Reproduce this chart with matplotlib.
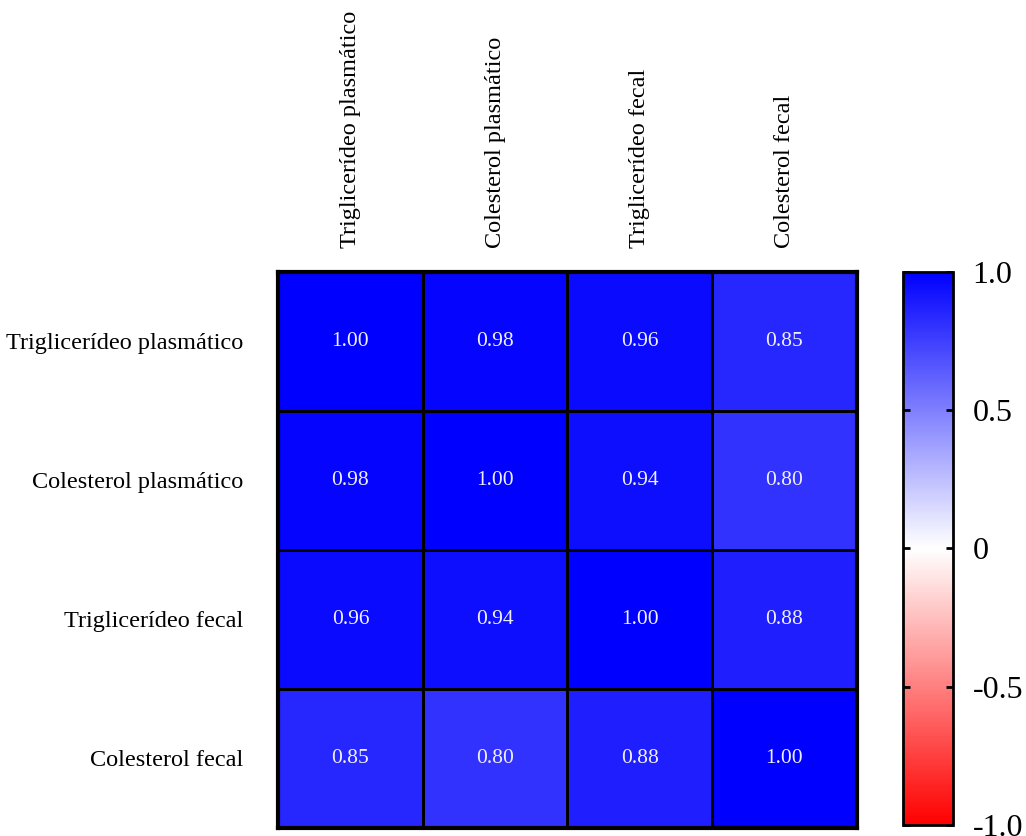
import numpy as np
import matplotlib
matplotlib.use('Agg')
import matplotlib.pyplot as plt
from matplotlib.colors import LinearSegmentedColormap

plt.rcParams['font.family'] = ['Liberation Serif', 'DejaVu Serif']

labels = ['Triglicerídeo plasmático', 'Colesterol plasmático',
          'Triglicerídeo fecal', 'Colesterol fecal']
corr = np.array([[1.00, 0.98, 0.96, 0.85],
                 [0.98, 1.00, 0.94, 0.80],
                 [0.96, 0.94, 1.00, 0.88],
                 [0.85, 0.80, 0.88, 1.00]])
cbar_ticks = [1.0, 0.5, 0, -0.5, -1.0]
cbar_ticklabels = ['1.0', '0.5', '0', '-0.5', '-1.0']

cmap = LinearSegmentedColormap.from_list('rwb', ['#ff0000', '#ffffff', '#0000ff'])

fig = plt.figure(figsize=(10.26, 8.36), dpi=100)
ax = fig.add_axes([0.271, 0.0096, 0.564, 0.6654])
cax = fig.add_axes([0.880, 0.013, 0.049, 0.662])

n = len(labels)
mesh = ax.pcolormesh(corr, cmap=cmap, vmin=-1, vmax=1,
                     edgecolors='black', linewidth=1.8)
ax.set_xlim(0, n)
ax.set_ylim(n, 0)
for i in range(n):
    for j in range(n):
        ax.text(j + 0.5, i + 0.5, '%.2f' % corr[i, j], ha='center', va='center',
                color='#eeeeff', fontsize=15.5)

ax.set_xticks(np.arange(n) + 0.5)
ax.set_yticks(np.arange(n) + 0.5)
ax.set_xticklabels(labels, rotation=90, fontsize=17.5)
ax.set_yticklabels(labels, fontsize=17.5)
ax.xaxis.tick_top()
ax.tick_params(axis='both', length=0)
ax.tick_params(axis='x', pad=17)
ax.tick_params(axis='y', pad=25)
for s in ax.spines.values():
    s.set_linewidth(3)

cb = fig.colorbar(mesh, cax=cax)
cb.set_ticks(cbar_ticks)
cb.set_ticklabels(cbar_ticklabels)
cb.outline.set_linewidth(2)
cax.tick_params(axis='y', direction='in', length=5, width=2, labelsize=23, pad=14,
                left=True, right=True)

fig.savefig('out.png', dpi=100)
